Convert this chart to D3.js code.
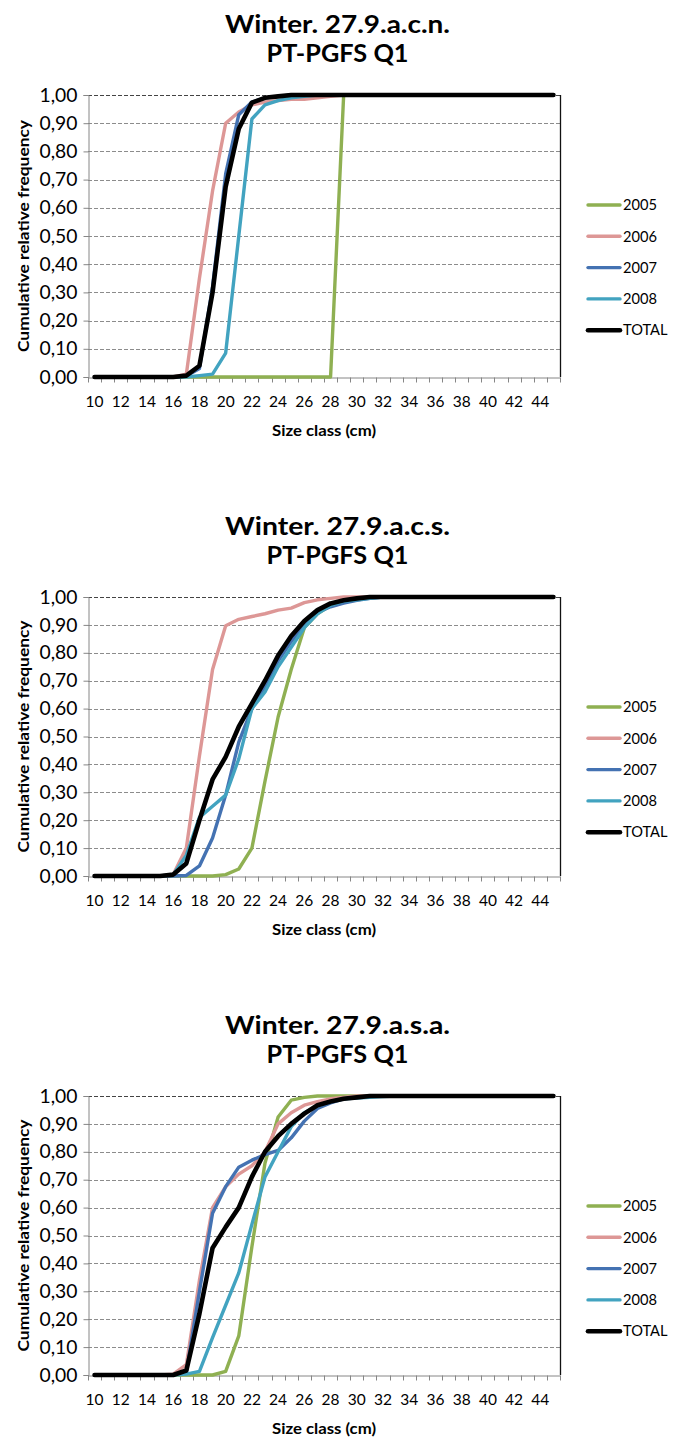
<!DOCTYPE html>
<html>
<head>
<meta charset="utf-8">
<script src="https://cdn.jsdelivr.net/npm/d3@7"></script>
<style>
  html, body { margin: 0; padding: 0; background: #ffffff; }
  svg { display: block; }
</style>
</head>
<body>
<script>
// ---------------- DATA ----------------
const sizeClasses = [10,11,12,13,14,15,16,17,18,19,20,21,22,23,24,25,26,27,28,29,30,31,32,33,34,35,36,37,38,39,40,41,42,43,44,45];
const xTickLabels = ["10","12","14","16","18","20","22","24","26","28","30","32","34","36","38","40","42","44"];
const yTicks = [0,0.1,0.2,0.3,0.4,0.5,0.6,0.7,0.8,0.9,1.0];
const seriesNames = ["2005","2006","2007","2008","TOTAL"];
const chartTitles = [
  ["Winter. 27.9.a.c.n.", "PT-PGFS Q1"],
  ["Winter. 27.9.a.c.s.", "PT-PGFS Q1"],
  ["Winter. 27.9.a.s.a.", "PT-PGFS Q1"]
];

// Chart 1: 27.9.a.c.n.
const acn2005 = [0,0,0,0,0,0,0,0,0,0,0,0,0,0,0,0,0,0,0,1,1,1,1,1,1,1,1,1,1,1,1,1,1,1,1,1];
const acn2006 = [0,0,0,0,0,0,0,0.01,0.35,0.66,0.90,0.94,0.965,0.975,0.98,0.985,0.985,0.99,0.995,1,1,1,1,1,1,1,1,1,1,1,1,1,1,1,1,1];
const acn2007 = [0,0,0,0,0,0,0,0.003,0.03,0.32,0.72,0.93,0.975,0.99,0.995,1,1,1,1,1,1,1,1,1,1,1,1,1,1,1,1,1,1,1,1,1];
const acn2008 = [0,0,0,0,0,0,0,0,0.005,0.01,0.085,0.50,0.915,0.965,0.98,0.99,0.995,1,1,1,1,1,1,1,1,1,1,1,1,1,1,1,1,1,1,1];
const acnTotal = [0,0,0,0,0,0,0,0.005,0.04,0.30,0.675,0.88,0.973,0.99,0.995,1,1,1,1,1,1,1,1,1,1,1,1,1,1,1,1,1,1,1,1,1];

// Chart 2: 27.9.a.c.s.
const acs2005 = [0,0,0,0,0,0,0,0,0,0,0.005,0.025,0.10,0.34,0.57,0.74,0.89,0.94,0.97,0.985,0.995,1,1,1,1,1,1,1,1,1,1,1,1,1,1,1];
const acs2006 = [0,0,0,0,0,0,0.005,0.10,0.43,0.74,0.897,0.92,0.93,0.94,0.953,0.96,0.98,0.99,0.995,1,1,1,1,1,1,1,1,1,1,1,1,1,1,1,1,1];
const acs2007 = [0,0,0,0,0,0,0,0.002,0.036,0.136,0.29,0.48,0.60,0.68,0.77,0.84,0.90,0.945,0.965,0.978,0.988,0.995,1,1,1,1,1,1,1,1,1,1,1,1,1,1];
const acs2008 = [0,0,0,0,0,0,0.005,0.075,0.21,0.25,0.29,0.42,0.60,0.66,0.75,0.82,0.89,0.94,0.97,0.985,0.99,0.995,1,1,1,1,1,1,1,1,1,1,1,1,1,1];
const acsTotal = [0,0,0,0,0,0,0.005,0.045,0.20,0.346,0.427,0.535,0.618,0.70,0.79,0.86,0.914,0.953,0.977,0.988,0.995,1,1,1,1,1,1,1,1,1,1,1,1,1,1,1];

// Chart 3: 27.9.a.s.a.
const asa2005 = [0,0,0,0,0,0,0,0,0,0,0.013,0.14,0.46,0.76,0.925,0.985,0.995,1,1,1,1,1,1,1,1,1,1,1,1,1,1,1,1,1,1,1];
const asa2006 = [0,0,0,0,0,0,0.003,0.037,0.34,0.60,0.675,0.72,0.75,0.80,0.90,0.94,0.967,0.98,0.99,0.995,1,1,1,1,1,1,1,1,1,1,1,1,1,1,1,1];
const asa2007 = [0,0,0,0,0,0,0,0.01,0.30,0.58,0.675,0.745,0.77,0.79,0.805,0.85,0.91,0.955,0.975,0.99,0.995,1,1,1,1,1,1,1,1,1,1,1,1,1,1,1];
const asa2008 = [0,0,0,0,0,0,0,0.003,0.013,0.134,0.25,0.366,0.54,0.71,0.80,0.89,0.94,0.965,0.98,0.99,0.993,0.995,0.998,1,1,1,1,1,1,1,1,1,1,1,1,1];
const asaTotal = [0,0,0,0,0,0,0,0.016,0.22,0.455,0.53,0.60,0.71,0.80,0.856,0.90,0.937,0.967,0.98,0.99,0.995,1,1,1,1,1,1,1,1,1,1,1,1,1,1,1];

const chartSeries = [
  [acn2005, acn2006, acn2007, acn2008, acnTotal],
  [acs2005, acs2006, acs2007, acs2008, acsTotal],
  [asa2005, asa2006, asa2007, asa2008, asaTotal]
];

// ---------------- STYLE / LAYOUT ----------------
const W = 673, H = 1439;
const colors = ["#8fb052", "#dd9796", "#4472b2", "#42a3c0", "#000000"];
const widths = [3.4, 3.4, 3.4, 3.4, 4.6];
const plotLeft = 88, plotRight = 560;
const plotTops = [95, 597, 1096];
const plotBottoms = [377, 876, 1375];
const FONT = "Lato, 'Open Sans', sans-serif";

const svg = d3.select("body").append("svg").attr("width", W).attr("height", H);

function fitSize(text, weight, target, base) {
  const t = svg.append("text").attr("font-family", FONT).attr("font-weight", weight)
    .attr("font-size", base).text(text);
  const len = t.node().getComputedTextLength();
  t.remove();
  return base * target / len;
}
const yTickSize = fitSize("0,00", "normal", 38, 14);
const xTickSize = fitSize("10", "normal", 18, 14);
const legendSize = fitSize("2005", "normal", 34, 14);
const titleSize = 24.5;
const titleWidths = [225, 142];

const fmt = v => d3.format(".2f")(v).replace(".", ",");

chartSeries.forEach((series, ci) => {
  const top = plotTops[ci], bottom = plotBottoms[ci];
  const g = svg.append("g");

  const x = d3.scaleBand().domain(sizeClasses).range([plotLeft, plotRight]).paddingInner(0).paddingOuter(0);
  const y = d3.scaleLinear().domain([0, 1]).range([bottom, top]);
  const cx = d => x(d) + x.bandwidth() / 2;

  // titles
  chartTitles[ci].forEach((t, li) => {
    g.append("text").attr("x", W / 2 + 1).attr("y", top - 62.5 + li * 29.5)
      .attr("text-anchor", "middle").attr("font-family", FONT).attr("font-weight", "bold")
      .attr("font-size", titleSize).attr("fill", "#000")
      .attr("textLength", titleWidths[li]).attr("lengthAdjust", "spacingAndGlyphs").text(t);
  });

  // gridlines
  g.append("g").selectAll("line").data(yTicks.slice(1)).join("line")
    .attr("x1", plotLeft).attr("x2", plotRight)
    .attr("y1", d => Math.round(y(d)) + 0.5).attr("y2", d => Math.round(y(d)) + 0.5)
    .attr("stroke", "#8c8c8c").attr("stroke-width", 1).attr("stroke-dasharray", "4,2");

  // top & right border
  g.append("line").attr("x1", plotLeft).attr("x2", plotRight)
    .attr("y1", Math.round(y(1)) + 0.5).attr("y2", Math.round(y(1)) + 0.5)
    .attr("stroke", "#444").attr("stroke-width", 1).attr("stroke-dasharray", "4,2");
  g.append("line").attr("x1", plotRight + 0.5).attr("x2", plotRight + 0.5)
    .attr("y1", top).attr("y2", bottom)
    .attr("stroke", "#111").attr("stroke-width", 1.3);

  // y axis
  const yAxis = d3.axisLeft(y).tickValues(yTicks).tickFormat(fmt).tickSize(5).tickPadding(6);
  const ya = g.append("g").attr("transform", `translate(${plotLeft + 0.5},0)`).call(yAxis);
  ya.select(".domain").attr("stroke", "#868686");
  ya.selectAll(".tick line").attr("stroke", "#868686");
  ya.selectAll(".tick text").attr("font-family", FONT).attr("font-size", yTickSize).attr("fill", "#000")
    .attr("x", -(plotLeft - 77));

  // x axis
  const xAxis = d3.axisBottom(x).tickValues([]).tickSizeOuter(0);
  const xa = g.append("g").attr("transform", `translate(0,${Math.round(bottom) + 0.5})`).call(xAxis);
  xa.select(".domain").attr("stroke", "#868686");
  const boundaries = sizeClasses.map(d => x(d)).concat([plotRight]);
  xa.selectAll("line.bt").data(boundaries).join("line").attr("class", "bt")
    .attr("x1", d => Math.round(d) + 0.5).attr("x2", d => Math.round(d) + 0.5)
    .attr("y1", 0).attr("y2", 5).attr("stroke", "#868686");
  xa.selectAll("text.xl").data(xTickLabels).join("text").attr("class", "xl")
    .attr("x", d => cx(+d)).attr("y", 29).attr("text-anchor", "middle")
    .attr("font-family", FONT).attr("font-size", xTickSize).attr("fill", "#000").text(d => d);

  // axis titles
  g.append("text").attr("x", (plotLeft + plotRight) / 2).attr("y", bottom + 59)
    .attr("text-anchor", "middle").attr("font-family", FONT).attr("font-weight", "bold")
    .attr("font-size", 15.5).attr("fill", "#000")
    .attr("textLength", 104).attr("lengthAdjust", "spacingAndGlyphs").text("Size class (cm)");
  g.append("text").attr("transform", `translate(29,${(top + bottom) / 2}) rotate(-90)`)
    .attr("text-anchor", "middle").attr("font-family", FONT).attr("font-weight", "bold")
    .attr("font-size", 15.5).attr("fill", "#000")
    .attr("textLength", 232).attr("lengthAdjust", "spacingAndGlyphs").text("Cumulative relative frequency");

  // lines
  const line = d3.line().x((d, i) => cx(sizeClasses[i])).y(d => y(d));
  series.forEach((vals, si) => {
    g.append("path").datum(vals).attr("d", line).attr("fill", "none")
      .attr("stroke", colors[si]).attr("stroke-width", widths[si])
      .attr("stroke-linejoin", "round").attr("stroke-linecap", "round");
  });

  // legend
  const lg = g.append("g");
  seriesNames.forEach((name, si) => {
    const ly = top + 110 + si * 31.3;
    lg.append("line").attr("x1", 588).attr("x2", 620).attr("y1", ly).attr("y2", ly)
      .attr("stroke", colors[si]).attr("stroke-width", widths[si]).attr("stroke-linecap", "round");
    lg.append("text").attr("x", 623).attr("y", ly).attr("dy", "0.36em")
      .attr("font-family", FONT).attr("font-size", legendSize).attr("fill", "#000").text(name);
  });
});
</script>
</body>
</html>
